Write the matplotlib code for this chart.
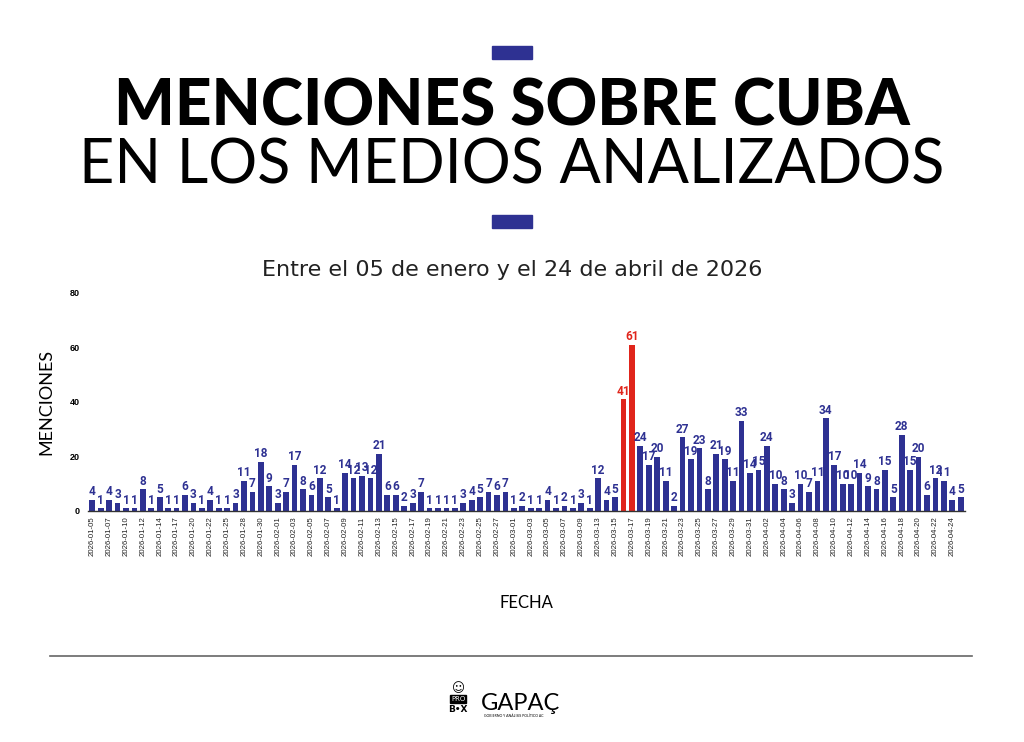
import matplotlib
matplotlib.use("Agg")
import matplotlib.pyplot as plt
from matplotlib.patches import Rectangle

# data
fechas = [
    "2026-01-05", "2026-01-06", "2026-01-07", "2026-01-08", "2026-01-10", "2026-01-11",
    "2026-01-12", "2026-01-13", "2026-01-14", "2026-01-15", "2026-01-17", "2026-01-19",
    "2026-01-20", "2026-01-21", "2026-01-22", "2026-01-23", "2026-01-25", "2026-01-27",
    "2026-01-28", "2026-01-29", "2026-01-30", "2026-01-31", "2026-02-01", "2026-02-02",
    "2026-02-03", "2026-02-04", "2026-02-05", "2026-02-06", "2026-02-07", "2026-02-08",
    "2026-02-09", "2026-02-10", "2026-02-11", "2026-02-12", "2026-02-13", "2026-02-14",
    "2026-02-15", "2026-02-16", "2026-02-17", "2026-02-18", "2026-02-19", "2026-02-20",
    "2026-02-21", "2026-02-22", "2026-02-23", "2026-02-24", "2026-02-25", "2026-02-26",
    "2026-02-27", "2026-02-28", "2026-03-01", "2026-03-02", "2026-03-03", "2026-03-04",
    "2026-03-05", "2026-03-06", "2026-03-07", "2026-03-08", "2026-03-09", "2026-03-11",
    "2026-03-13", "2026-03-14", "2026-03-15", "2026-03-16", "2026-03-17", "2026-03-18",
    "2026-03-19", "2026-03-20", "2026-03-21", "2026-03-22", "2026-03-23", "2026-03-24",
    "2026-03-25", "2026-03-26", "2026-03-27", "2026-03-28", "2026-03-29", "2026-03-30",
    "2026-03-31", "2026-04-01", "2026-04-02", "2026-04-03", "2026-04-04", "2026-04-05",
    "2026-04-06", "2026-04-07", "2026-04-08", "2026-04-09", "2026-04-10", "2026-04-11",
    "2026-04-12", "2026-04-13", "2026-04-14", "2026-04-15", "2026-04-16", "2026-04-17",
    "2026-04-18", "2026-04-19", "2026-04-20", "2026-04-21", "2026-04-22", "2026-04-23",
    "2026-04-24", "2026-04-25",
]
menciones = [
    4, 1, 4, 3, 1, 1, 8, 1, 5, 1, 1, 6, 3, 1, 4, 1, 1, 3, 11, 7, 18, 9, 3, 7,
    17, 8, 6, 12, 5, 1, 14, 12, 13, 12, 21, 6, 6, 2, 3, 7, 1, 1, 1, 1, 3, 4, 5, 7,
    6, 7, 1, 2, 1, 1, 4, 1, 2, 1, 3, 1, 12, 4, 5, 41, 61, 24, 17, 20, 11, 2, 27, 19,
    23, 8, 21, 19, 11, 33, 14, 15, 24, 10, 8, 3, 10, 7, 11, 34, 17, 10, 10, 14, 9, 8,
    15, 5, 28, 15, 20, 6, 12, 11, 4, 5,
]
destacadas = ["2026-03-16", "2026-03-17"]

azul = "#2e3192"
rojo = "#e0251b"

fig = plt.figure(figsize=(10.24, 7.42), dpi=100)
fig.patch.set_facecolor("white")

# header
fig.patches.append(Rectangle((492 / 1024, 1 - 59 / 742), 40 / 1024, 13 / 742,
                             transform=fig.transFigure, color=azul))
fig.patches.append(Rectangle((492 / 1024, 1 - 228 / 742), 40 / 1024, 13 / 742,
                             transform=fig.transFigure, color=azul))
fig.text(0.5, 1 - 107 / 742, "MENCIONES SOBRE CUBA", ha="center", va="center",
         fontsize=46, fontweight="black", family="Lato", color="black")
fig.text(0.5, 1 - 166 / 742, "EN LOS MEDIOS ANALIZADOS", ha="center", va="center",
         fontsize=44, fontweight="normal", family="Lato", color="black")
fig.text(0.5, 1 - 270 / 742, "Entre el 05 de enero y el 24 de abril de 2026",
         ha="center", va="center", fontsize=16, family="DejaVu Sans", color="#222222")

ax = fig.add_axes([88 / 1024, 1 - 511 / 742, 877 / 1024, 218 / 742])
x = list(range(len(fechas)))
colores = [rojo if f in destacadas else azul for f in fechas]
ax.bar(x, menciones, width=0.68, color=colores)
for xi, v, c in zip(x, menciones, colores):
    ax.text(xi, v + 0.6, str(v), ha="center", va="bottom", fontsize=8.5,
            fontweight="bold", family="Roboto", color=c)

ax.set_xlim(-0.5, len(fechas) - 0.5)
ax.set_ylim(0, 80)
ax.set_yticks([0, 20, 40, 60, 80])
ax.set_xticks(x[::2])
ax.set_xticklabels(fechas[::2], rotation=90, fontsize=5.6, family="Liberation Sans",
                   color="#222222")
for lbl in ax.get_yticklabels():
    lbl.set_fontsize(6.5)
    lbl.set_fontweight("bold")
    lbl.set_family("Liberation Sans")
ax.tick_params(axis="x", length=0, pad=4)
ax.tick_params(axis="y", length=0, pad=6)
for s in ["top", "right", "left"]:
    ax.spines[s].set_visible(False)
ax.spines["bottom"].set_color("#333333")
ax.spines["bottom"].set_linewidth(1.0)
ax.set_ylabel("MENCIONES", fontsize=13, family="Lato", labelpad=11)
ax.set_xlabel("FECHA", fontsize=12, family="Lato", labelpad=28)

# footer
fig.add_artist(plt.Line2D([50 / 1024, 972 / 1024], [1 - 656 / 742, 1 - 656 / 742],
                          transform=fig.transFigure, color="#666666", linewidth=1.2))
fig.text(458 / 1024, 1 - 689 / 742, "\u263a", ha="center", va="center",
         fontsize=9, family="DejaVu Sans", color="black")
fig.text(458 / 1024, 1 - 699 / 742, "PRO", ha="center", va="center",
         fontsize=5, family="DejaVu Sans", color="white",
         bbox=dict(boxstyle="square,pad=0.12", facecolor="black", edgecolor="black"))
fig.text(458 / 1024, 1 - 710 / 742, "B\u2022X", ha="center", va="center",
         fontsize=6.5, fontweight="bold", family="DejaVu Sans", color="black")
fig.text(481 / 1024, 1 - 704 / 742, "GAPAÇ", ha="left", va="center", fontsize=17,
         family="Lato", color="black")
fig.text(484 / 1024, 1 - 716 / 742, "GOBIERNO Y ANÁLISIS POLÍTICO AC", ha="left",
         va="center", fontsize=2.5, family="Lato", color="black")

fig.savefig("out.png", dpi=100, facecolor="white")
